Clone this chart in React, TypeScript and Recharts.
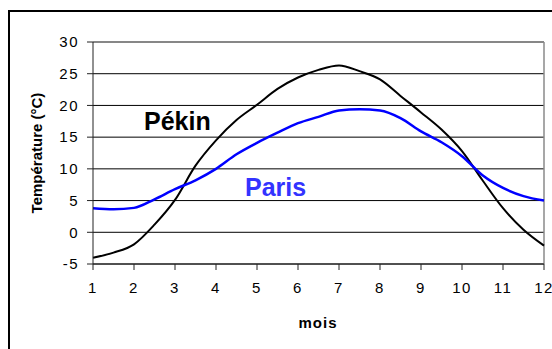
import * as React from "react";
import {
  LineChart,
  Line,
  XAxis,
  YAxis,
  CartesianGrid,
  ReferenceLine,
} from "recharts";

// mois (points tous les demi-mois)
const months = [
  1, 1.5, 2, 2.5, 3, 3.5, 4, 4.5, 5, 5.5, 6, 6.5, 7, 7.5, 8, 8.5, 9, 9.5, 10,
  10.5, 11, 11.5, 12,
];
const pekin = [
  -4, -3.2, -1.9, 1.2, 5.1, 10.5, 14.5, 17.7, 20.1, 22.6, 24.4, 25.6, 26.3,
  25.4, 24.1, 21.5, 18.9, 16.2, 12.8, 8.2, 3.8, 0.4, -2.1,
];
const paris = [
  3.8, 3.65, 3.85, 5.2, 6.8, 8.2, 10.0, 12.3, 14.1, 15.7, 17.2, 18.2, 19.2,
  19.4, 19.2, 18.0, 15.9, 14.2, 12.0, 9.0, 7.0, 5.7, 5.0,
];
const xTicks = [1, 2, 3, 4, 5, 6, 7, 8, 9, 10, 11, 12];
const yTicks = [-5, 0, 5, 10, 15, 20, 25, 30];

const data = months.map((m, i) => ({ mois: m, Pekin: pekin[i], Paris: paris[i] }));

const font = "'Liberation Sans', Arial, Helvetica, sans-serif";
const tickStyle = { fontSize: 15, fill: "#000", fontFamily: font, letterSpacing: 1.5 };

export default function App() {
  return (
    <div
      style={{
        position: "fixed",
        left: 0,
        top: 0,
        width: 552,
        height: 349,
        overflow: "hidden",
        background: "#fff",
      }}
    >
      <div
        style={{
          position: "absolute",
          left: 8,
          top: 10,
          width: 700,
          height: 500,
          borderLeft: "2px solid #000",
          borderTop: "2px solid #000",
        }}
      />
      <div style={{ position: "absolute", left: 0, top: 0 }}>
        <LineChart
          width={552}
          height={349}
          data={data}
          margin={{ top: 42, right: 8, bottom: 25, left: 0 }}
        >
          <CartesianGrid vertical={false} stroke="#000" strokeWidth={1} />
          <XAxis
            dataKey="mois"
            type="number"
            domain={[1, 12]}
            ticks={xTicks}
            height={60}
            tickSize={6}
            tickMargin={12}
            stroke="#222"
            tick={tickStyle}
            interval={0}
          />
          <YAxis
            type="number"
            domain={[-5, 30]}
            ticks={yTicks}
            width={93}
            tickSize={6}
            tickMargin={8}
            stroke="#222"
            tick={tickStyle}
            interval={0}
          />
          <ReferenceLine y={30} stroke="#8a8a8a" strokeWidth={1.5} />
          <ReferenceLine x={12} stroke="#8a8a8a" strokeWidth={1.5} />
          <Line
            type="monotone"
            dataKey="Pekin"
            stroke="#000"
            strokeWidth={2}
            dot={false}
            isAnimationActive={false}
          />
          <Line
            type="monotone"
            dataKey="Paris"
            stroke="#0000ff"
            strokeWidth={2.5}
            dot={false}
            isAnimationActive={false}
          />
        </LineChart>
      </div>
      <svg
        width={552}
        height={349}
        style={{ position: "absolute", left: 0, top: 0, pointerEvents: "none" }}
      >
        <text
          x={144}
          y={129.5}
          fontFamily={font}
          fontWeight="bold"
          fontSize={25}
          fill="#000"
        >
          Pékin
        </text>
        <text
          x={245}
          y={196}
          fontFamily={font}
          fontWeight="bold"
          fontSize={25}
          fill="#3333ff"
        >
          Paris
        </text>
        <text
          x={318}
          y={328}
          textAnchor="middle"
          fontFamily={font}
          fontWeight="bold"
          fontSize={15}
          letterSpacing={1}
          fill="#000"
        >
          mois
        </text>
        <text
          transform="translate(42,153) rotate(-90)"
          textAnchor="middle"
          fontFamily={font}
          fontWeight="bold"
          fontSize={15}
          fill="#000"
        >
          Température (°C)
        </text>
      </svg>
    </div>
  );
}
